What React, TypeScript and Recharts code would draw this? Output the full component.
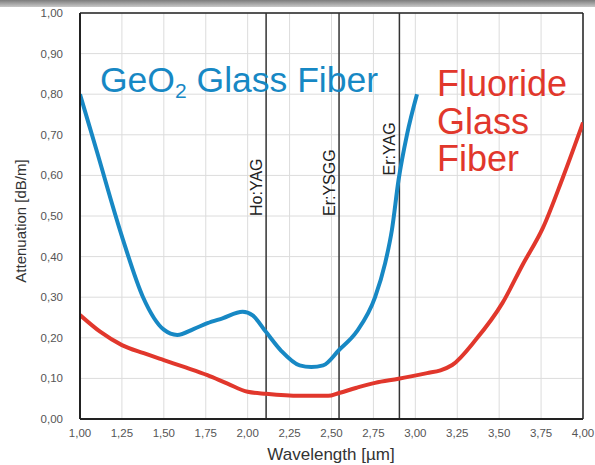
import React from 'react'
import {
  LineChart,
  Line,
  XAxis,
  YAxis,
  CartesianGrid,
  ReferenceLine,
} from 'recharts'

const geo2Wavelength = [1.0, 1.1, 1.25, 1.376, 1.5, 1.58, 1.68, 1.76, 1.85, 1.97, 2.03, 2.11, 2.2, 2.31, 2.38, 2.45, 2.545, 2.65, 2.76, 2.82, 2.86, 2.9, 2.95, 3.01]
const geo2Attenuation = [0.8, 0.66, 0.45, 0.3, 0.22, 0.207, 0.222, 0.236, 0.248, 0.264, 0.255, 0.214, 0.168, 0.132, 0.128, 0.132, 0.17, 0.215, 0.3, 0.384, 0.465, 0.589, 0.7, 0.8]

const fluorideWavelength = [1.0, 1.12, 1.25, 1.38, 1.5, 1.63, 1.76, 1.88, 2.0, 2.11, 2.31, 2.48, 2.545, 2.65, 2.76, 2.9, 3.07, 3.15, 3.22, 3.36, 3.52, 3.64, 3.76, 3.88, 4.0]
const fluorideAttenuation = [0.256, 0.215, 0.182, 0.162, 0.145, 0.127, 0.108, 0.087, 0.067, 0.062, 0.057, 0.057, 0.064, 0.077, 0.089, 0.099, 0.113, 0.12, 0.133, 0.195, 0.286, 0.38, 0.47, 0.595, 0.73]

const xTicks = [1.0, 1.25, 1.5, 1.75, 2.0, 2.25, 2.5, 2.75, 3.0, 3.25, 3.5, 3.75, 4.0]
const yTicks = [0, 0.1, 0.2, 0.3, 0.4, 0.5, 0.6, 0.7, 0.8, 0.9, 1.0]

const laserNames = ['Ho:YAG', 'Er:YSGG', 'Er:YAG']
const laserWavelength = [2.11, 2.545, 2.905]
const laserLabelStart = [0.5, 0.5, 0.6]

const geo2Data = geo2Wavelength.map((x, i) => ({ x, y: geo2Attenuation[i] }))
const fluorideData = fluorideWavelength.map((x, i) => ({ x, y: fluorideAttenuation[i] }))

const FONT = '"Liberation Sans", Arial, Helvetica, sans-serif'
const BLUE = '#1788c4'
const RED = '#e1372c'

const comma = (v: number) => v.toFixed(2).replace('.', ',')

const laserLabel = (name: string, at: number) => (props: any) => {
  const vb = props.viewBox || {}
  const x = vb.x - 4
  const y = vb.y + vb.height * (1 - at)
  return (
    <text
      x={x}
      y={y}
      transform={`rotate(-90 ${x} ${y})`}
      fontSize={16}
      fill="#222"
      fontFamily={FONT}
      textAnchor="start"
    >
      {name}
    </text>
  )
}

export default function App() {
  return (
    <div
      style={{
        position: 'absolute',
        left: 0,
        top: 0,
        width: 595,
        height: 465,
        background: '#fff',
        fontFamily: FONT,
        overflow: 'hidden',
      }}
    >
      <LineChart
        width={595}
        height={465}
        margin={{ top: 13, right: 12, left: 0, bottom: 0 }}
      >
        <CartesianGrid stroke="#dcdcdc" strokeWidth={1} />
        <XAxis
          type="number"
          dataKey="x"
          domain={[1, 4]}
          ticks={xTicks}
          tickFormatter={comma}
          height={46}
          axisLine={{ stroke: '#222', strokeWidth: 2 }}
          tickLine={false}
          tickSize={0}
          tickMargin={10}
          tick={{ fontSize: 11.5, fill: '#555', fontFamily: FONT }}
          allowDataOverflow
        />
        <YAxis
          type="number"
          dataKey="y"
          domain={[0, 1]}
          ticks={yTicks}
          tickFormatter={comma}
          width={80}
          axisLine={{ stroke: '#222', strokeWidth: 2 }}
          tickLine={false}
          tickSize={0}
          tickMargin={17}
          tick={{ fontSize: 11.5, fill: '#555', fontFamily: FONT }}
        />
        <ReferenceLine y={1} stroke="#222" strokeWidth={1.5} />
        <ReferenceLine x={4} stroke="#222" strokeWidth={1.5} />
        {laserNames.map((name, i) => (
          <ReferenceLine
            key={name}
            x={laserWavelength[i]}
            stroke="#333"
            strokeWidth={1.5}
            label={laserLabel(name, laserLabelStart[i])}
          />
        ))}
        <Line
          data={fluorideData}
          dataKey="y"
          type="monotone"
          stroke={RED}
          strokeWidth={4}
          dot={false}
          isAnimationActive={false}
        />
        <Line
          data={geo2Data}
          dataKey="y"
          type="monotone"
          stroke={BLUE}
          strokeWidth={4}
          dot={false}
          isAnimationActive={false}
        />
      </LineChart>

      {/* axis titles */}
      <div
        style={{
          position: 'absolute',
          left: 20,
          top: 221,
          transform: 'translate(-50%, -50%) rotate(-90deg)',
          fontSize: 15,
          color: '#333',
          whiteSpace: 'nowrap',
        }}
      >
        Attenuation [dB/m]
      </div>
      <div
        style={{
          position: 'absolute',
          left: 331,
          top: 445,
          transform: 'translateX(-50%)',
          fontSize: 17,
          color: '#333',
          whiteSpace: 'nowrap',
        }}
      >
        Wavelength [µm]
      </div>

      {/* curve captions */}
      <div
        style={{
          position: 'absolute',
          left: 100,
          top: 60,
          fontSize: 35.5,
          color: BLUE,
          whiteSpace: 'nowrap',
          lineHeight: '40px',
        }}
      >
        GeO<sub style={{ fontSize: 21, verticalAlign: '-6px' }}>2</sub> Glass Fiber
      </div>
      <div
        style={{
          position: 'absolute',
          left: 437,
          top: 65,
          fontSize: 36,
          color: RED,
          lineHeight: '37.5px',
        }}
      >
        Fluoride
        <br />
        Glass
        <br />
        Fiber
      </div>

      {/* gray band at the top of the screenshot */}
      <div
        style={{
          position: 'absolute',
          left: 0,
          top: 0,
          width: 595,
          height: 7,
          background: 'linear-gradient(#7c7c7c, #c8c8c8)',
        }}
      />
    </div>
  )
}
